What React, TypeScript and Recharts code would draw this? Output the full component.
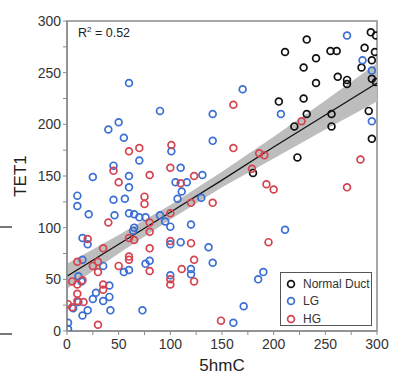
import React from 'react';
import { ComposedChart, Scatter, Line, Area, XAxis, YAxis, ReferenceArea, Legend } from 'recharts';

const FONT = '"Liberation Sans", Arial, Helvetica, sans-serif';

const normalDuct: [number, number][] = [
  [232, 282], [294, 289], [299, 286], [211, 270], [255, 271], [261, 271], [241, 264],
  [288, 274], [298, 270], [295, 262], [229, 255], [285, 255], [295, 244], [299, 241],
  [262, 246], [271, 243], [271, 239], [241, 240], [205, 222], [229, 225], [232, 210],
  [256, 210], [292, 213], [220, 198], [256, 198], [295, 186], [223, 168], [180, 153],
];

const lowGrade: [number, number][] = [
  [60, 240], [90, 213], [50, 202], [40, 195], [55, 187], [101, 174], [70, 165], [45, 160],
  [25, 149], [60, 150], [110, 158], [105, 144], [116, 144], [60, 139], [10, 131], [10, 121],
  [21, 113], [45, 127], [56, 128], [46, 112], [60, 114], [65, 113], [70, 110], [76, 110],
  [65, 100], [64, 97], [90, 112], [95, 106], [100, 101], [15, 90], [20, 84], [100, 84],
  [110, 86], [120, 103], [111, 135], [107, 128], [130, 129], [131, 151], [170, 234],
  [141, 210], [207, 210], [141, 184], [137, 81], [141, 66], [190, 57], [185, 50], [171, 24],
  [161, 8], [211, 98], [271, 286], [286, 262], [295, 252], [295, 203], [15, 69], [35, 63],
  [55, 57], [60, 59], [76, 65], [80, 68], [100, 54], [120, 60], [120, 55], [11, 53], [14, 48],
  [28, 37], [41, 44], [41, 33], [25, 31], [35, 29], [42, 20], [73, 20], [20, 20], [15, 15],
  [6, 22], [11, 28], [1, 8], [1, 2],
];

const highGrade: [number, number][] = [
  [70, 177], [60, 174], [101, 180], [45, 155], [80, 151], [100, 158], [50, 144], [110, 143],
  [123, 150], [40, 105], [75, 130], [75, 123], [100, 114], [80, 105], [80, 96], [20, 89],
  [60, 90], [65, 88], [35, 80], [80, 80], [100, 87], [120, 85], [120, 124], [141, 124],
  [161, 219], [161, 177], [186, 172], [191, 170], [179, 157], [193, 142], [200, 137],
  [195, 86], [227, 203], [284, 166], [271, 139], [149, 10], [60, 72], [60, 69], [10, 67],
  [25, 63], [30, 67], [30, 57], [50, 63], [80, 58], [100, 50], [100, 45], [111, 60],
  [123, 48], [123, 69], [5, 48], [10, 45], [15, 49], [10, 36], [35, 45], [35, 40], [30, 6],
  [1, 26], [5, 23], [10, 29], [16, 28],
];

const fitX = [0, 50, 100, 150, 200, 250, 300];
const fitY = [53, 84, 115, 146, 178, 209, 240];
const bandLow = [41, 75, 108, 139, 167, 195, 222];
const bandHigh = [65, 93, 122, 154, 188, 223, 259];

const axisTicks = [0, 25, 50, 75, 100, 125, 150, 175, 200, 225, 250, 275, 300];
const labeledTicks = [0, 50, 100, 150, 200, 250, 300];

const seriesNames = ['Normal Duct', 'LG', 'HG'];
const seriesColors = ['#111111', '#3b6fd4', '#d4434f'];

const toPoints = (arr: [number, number][]) => arr.map(([x, y]) => ({ x, y }));

const fitData = fitX.map((x, i) => ({ x, fit: fitY[i], band: [bandLow[i], bandHigh[i]] }));

const ring = (color: string) => (props: any) => (
  <circle cx={props.cx} cy={props.cy} r={3.4} fill="none" stroke={color} strokeWidth={1.7} />
);

const fmt = (v: number) => (labeledTicks.includes(v) ? String(v) : '');

const LegendBox = () => (
  <div
    style={{
      border: '1.5px solid #555',
      background: '#fff',
      width: 92,
      height: 54,
      boxSizing: 'border-box',
      padding: '2px 0 0 0',
      fontFamily: FONT,
      fontSize: 12,
      color: '#333',
    }}
  >
    {seriesNames.map((n, i) => (
      <div key={n} style={{ display: 'flex', alignItems: 'center', height: 17.5 }}>
        <svg width={20} height={12} style={{ marginLeft: 2 }}>
          <circle cx={8} cy={6} r={3.4} fill="none" stroke={seriesColors[i]} strokeWidth={1.7} />
        </svg>
        <span style={{ whiteSpace: 'nowrap' }}>{n}</span>
      </div>
    ))}
  </div>
);

export default function App() {
  return (
    <div style={{ position: 'absolute', left: 0, top: 0, width: 393, height: 381 }}>
      <div style={{ position: 'absolute', left: 0, top: 226, width: 12, height: 1.5, background: '#777' }} />
      <div style={{ position: 'absolute', left: 0, top: 333, width: 12, height: 1.5, background: '#777' }} />
      <ComposedChart
        width={393}
        height={381}
        data={fitData}
        margin={{ top: 21, right: 16, bottom: 0, left: 0 }}
        style={{ fontFamily: FONT }}
      >
        <XAxis
          type="number"
          dataKey="x"
          domain={[0, 300]}
          ticks={axisTicks}
          tickFormatter={fmt}
          interval={0}
          height={50}
          tickSize={4}
          tickMargin={4}
          allowDataOverflow
          axisLine={{ stroke: '#8c8c8c', strokeWidth: 1.5 }}
          tickLine={{ stroke: '#8c8c8c' }}
          tick={{ fill: '#333', fontSize: 14, fontFamily: FONT }}
          label={{ value: '5hmC', position: 'insideBottom', offset: 10, fill: '#222', fontSize: 17, fontFamily: FONT }}
        />
        <YAxis
          type="number"
          domain={[0, 300]}
          ticks={axisTicks}
          tickFormatter={fmt}
          interval={0}
          width={67}
          tickSize={4}
          tickMargin={2}
          allowDataOverflow
          axisLine={{ stroke: '#8c8c8c', strokeWidth: 1.5 }}
          tickLine={{ stroke: '#8c8c8c' }}
          tick={{ fill: '#333', fontSize: 14, fontFamily: FONT }}
          label={{
            content: () => (
              <text
                x={20}
                y={176}
                transform="rotate(-90, 20, 176)"
                textAnchor="middle"
                dominantBaseline="central"
                fill="#222"
                fontSize={17}
                fontFamily={FONT}
              >
                TET1
              </text>
            ),
          }}
        />
        <ReferenceArea
          x1={0}
          x2={300}
          y1={0}
          y2={300}
          fill="none"
          stroke="#8c8c8c"
          strokeWidth={1.5}
          ifOverflow="visible"
          label={{
            content: (p: any) => (
              <text x={p.viewBox.x + 11} y={p.viewBox.y + 16} fill="#222" fontSize={12.5} fontFamily={FONT}>
                R<tspan dy={-5} fontSize={8}>2</tspan>
                <tspan dy={5}> = 0.52</tspan>
              </text>
            ),
          }}
        />
        <Area
          type="linear"
          dataKey="band"
          fill="#bdbdbd"
          fillOpacity={1}
          stroke="none"
          isAnimationActive={false}
          legendType="none"
        />
        <Line
          type="linear"
          dataKey="fit"
          stroke="#111"
          strokeWidth={1.2}
          dot={false}
          isAnimationActive={false}
          legendType="none"
        />
        <Scatter name="Normal Duct" data={toPoints(normalDuct)} dataKey="y" shape={ring(seriesColors[0])} isAnimationActive={false} />
        <Scatter name="LG" data={toPoints(lowGrade)} dataKey="y" shape={ring(seriesColors[1])} isAnimationActive={false} />
        <Scatter name="HG" data={toPoints(highGrade)} dataKey="y" shape={ring(seriesColors[2])} isAnimationActive={false} />
        <Legend
          layout="vertical"
          align="center"
          verticalAlign="middle"
          content={() => <LegendBox />}
          wrapperStyle={{ left: 280, top: 272, width: 92, height: 54, right: 'auto', bottom: 'auto' }}
        />
      </ComposedChart>
    </div>
  );
}
